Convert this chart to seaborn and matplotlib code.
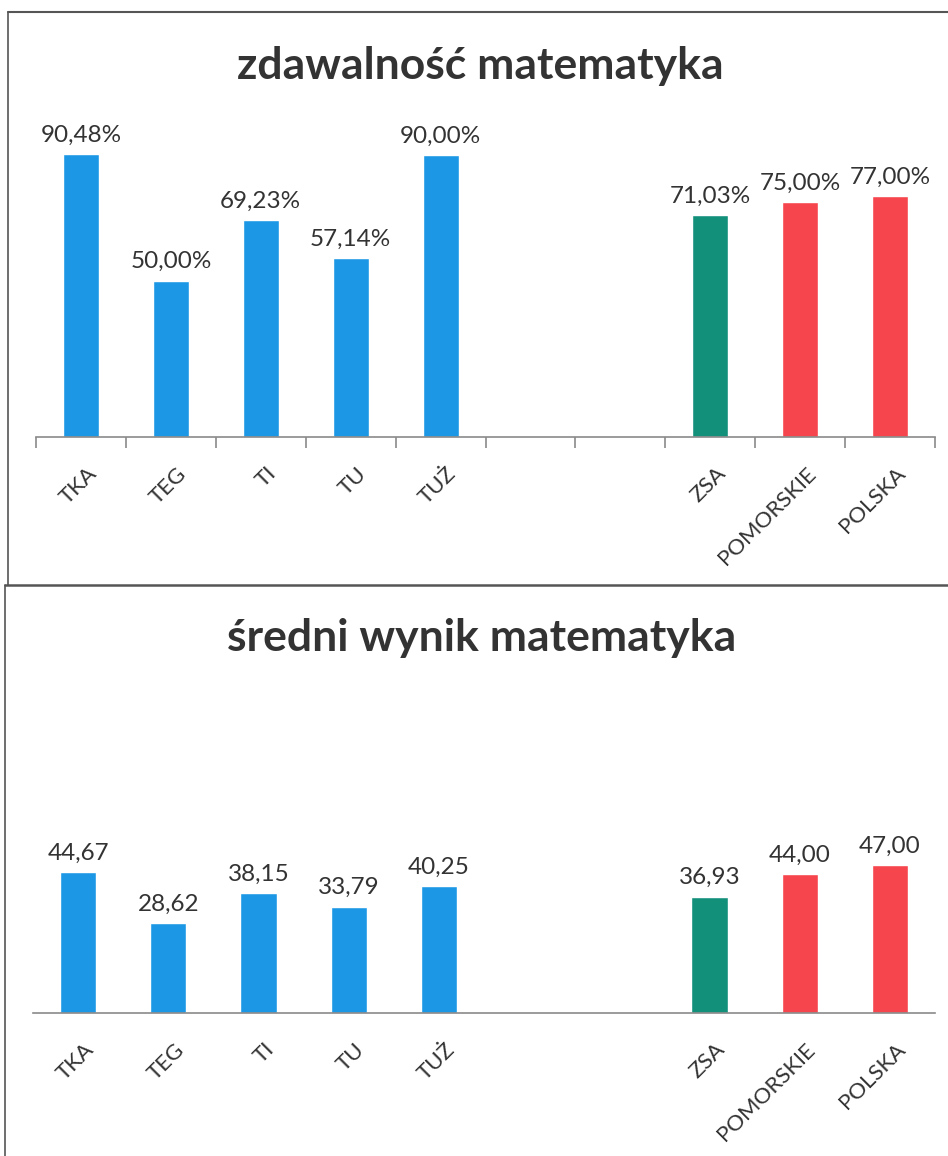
import numpy as np
import pandas as pd
import matplotlib
matplotlib.use("Agg")
import matplotlib.pyplot as plt
import seaborn as sns
from matplotlib.lines import Line2D

sns.set_theme(style="white")
plt.rcParams['font.family'] = ['Lato', 'DejaVu Sans']

categories = ["TKA", "TEG", "TI", "TU", "TUŻ", "ZSA", "POMORSKIE", "POLSKA"]
pass_rate = [90.48, 50.00, 69.23, 57.14, 90.00, 71.03, 75.00, 77.00]
mean_score = [44.67, 28.62, 38.15, 33.79, 40.25, 36.93, 44.00, 47.00]
title_top = "zdawalność matematyka"
title_bottom = "średni wynik matematyka"

order = ["TKA", "TEG", "TI", "TU", "TUŻ", "_gap1", "_gap2", "ZSA", "POMORSKIE", "POLSKA"]
tick_labels = [c if not c.startswith("_gap") else "" for c in order]

BLUE = "#1C97E6"
GREEN = "#12907A"
RED = "#F6454D"
palette = {"TKA": BLUE, "TEG": BLUE, "TI": BLUE, "TU": BLUE, "TUŻ": BLUE,
           "ZSA": GREEN, "POMORSKIE": RED, "POLSKA": RED}
TEXT = "#333333"

fig = plt.figure(figsize=(9.48, 11.56), dpi=100)
W, H = 948, 1156

def fr(x0, y_top, x1, y_bottom):
    return [x0 / W, 1 - y_bottom / H, (x1 - x0) / W, (y_bottom - y_top) / H]

ax1 = fig.add_axes(fr(36, 437 - 3.128 * 100, 935, 437))
ax2 = fig.add_axes(fr(33, 1013 - 3.15 * 60, 935, 1013))

def draw(ax, values, fmt, ymax, ticks):
    df = pd.DataFrame({"cat": categories, "val": values})
    sns.barplot(data=df, x="cat", y="val", hue="cat", order=order,
                palette=palette, width=0.4, legend=False, ax=ax,
                saturation=1)
    ax.set_ylim(0, ymax)
    ax.set_xlim(-0.5, len(order) - 0.5)
    for cont in ax.containers:
        labs = [fmt(v) if not np.isnan(v) else "" for v in cont.datavalues]
        ax.bar_label(cont, labels=labs, padding=6, fontsize=17.5, color=TEXT)
    ax.set_xlabel("")
    ax.set_ylabel("")
    ax.set_yticks([])
    for s in ["top", "right", "left"]:
        ax.spines[s].set_visible(False)
    ax.spines["bottom"].set_color("#8a8a8a")
    ax.spines["bottom"].set_linewidth(1.2)
    ax.set_xticks(np.arange(len(order)) + 0.06)
    ax.set_xticklabels(tick_labels, rotation=45, ha="right",
                       rotation_mode="anchor", fontsize=16, color=TEXT)
    ax.tick_params(axis="x", which="major", length=0, pad=19)
    if ticks:
        ax.set_xticks(np.arange(-0.5, len(order), 1.0), minor=True)
        ax.tick_params(axis="x", which="minor", length=8, width=1.2,
                       color="#8a8a8a", bottom=True, direction="out")
    ax.set_facecolor("none")

draw(ax1, pass_rate, lambda v: f"{v:.2f}%".replace(".", ","), 100, True)
draw(ax2, mean_score, lambda v: f"{v:.2f}".replace(".", ","), 60, False)

fig.text(480 / W, 1 - 66 / H, title_top, ha="center", va="center",
         fontsize=32, fontweight="bold", color=TEXT)
fig.text(482 / W, 1 - 638 / H, title_bottom, ha="center", va="center",
         fontsize=32, fontweight="bold", color=TEXT)

# panel frames (scanned document borders)
lc = "#555555"
fig.add_artist(Line2D([8 / W, 1], [1 - 12 / H, 1 - 12 / H], color=lc, lw=1.5))
fig.add_artist(Line2D([8 / W, 8 / W], [1 - 12 / H, 1 - 585 / H], color=lc, lw=1.2))
fig.add_artist(Line2D([5 / W, 1], [1 - 585 / H, 1 - 585 / H], color=lc, lw=1.8))
fig.add_artist(Line2D([5 / W, 5 / W], [1 - 585 / H, 0], color=lc, lw=1.2))

fig.savefig("out.png", dpi=100, facecolor="white")
